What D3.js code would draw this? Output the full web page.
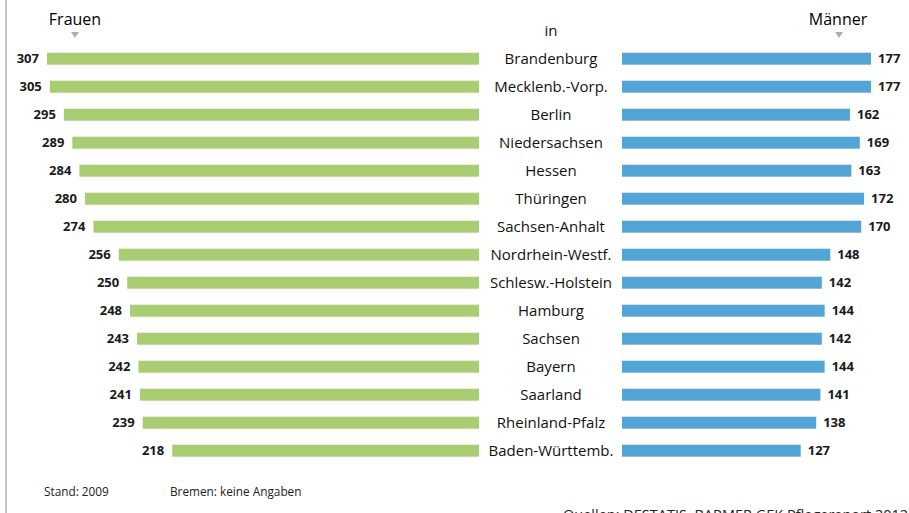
<!DOCTYPE html>
<html>
<head>
<meta charset="utf-8">
<script src="https://cdn.jsdelivr.net/npm/d3@7"></script>
<style>
  body { margin: 0; background: #fff; }
  svg { display: block; font-family: "Open Sans", "DejaVu Sans", sans-serif; }
</style>
</head>
<body>
<script>
// Pflegebedürftige je Bundesland, Frauen / Männer (Stand 2009)
var LAENDER = ["Brandenburg", "Mecklenb.-Vorp.", "Berlin", "Niedersachsen", "Hessen", "Thüringen", "Sachsen-Anhalt", "Nordrhein-Westf.", "Schlesw.-Holstein", "Hamburg", "Sachsen", "Bayern", "Saarland", "Rheinland-Pfalz", "Baden-Württemb."];
var FRAUEN = [307, 305, 295, 289, 284, 280, 274, 256, 250, 248, 243, 242, 241, 239, 218];
var MAENNER = [177, 177, 162, 169, 163, 172, 170, 148, 142, 144, 142, 144, 141, 138, 127];

var w = 909, h = 513;
var gruen = "#a9cd73", blau = "#52a5d5";
var mitteL = 479, mitteR = 622, mitteX = 551;
var barH = 12;

var svg = d3.select("body").append("svg").attr("width", w).attr("height", h);

// gleiche Skala für beide Seiten
var x = d3.scaleLinear().domain([0, 307]).range([0, 432]);
var y = d3.scalePoint().domain(LAENDER).range([58.7, 450.7]);

var data = LAENDER.map(function (d, i) { return { name: d, f: FRAUEN[i], m: MAENNER[i] }; });

// graue Linie links
svg.append("line").attr("x1", 6).attr("x2", 6).attr("y1", 0).attr("y2", h)
  .attr("stroke", "#c4c4c4").attr("stroke-width", 2);

var rows = svg.selectAll("g.row").data(data).enter().append("g").attr("class", "row");

rows.append("rect")
  .attr("x", function (d) { return mitteL - x(d.f); })
  .attr("y", function (d) { return y(d.name) - barH / 2; })
  .attr("width", function (d) { return x(d.f); })
  .attr("height", barH)
  .attr("fill", gruen);

rows.append("rect")
  .attr("x", mitteR)
  .attr("y", function (d) { return y(d.name) - barH / 2; })
  .attr("width", function (d) { return x(d.m); })
  .attr("height", barH)
  .attr("fill", blau);

rows.append("text")
  .attr("x", function (d) { return mitteL - x(d.f) - 8; })
  .attr("y", function (d) { return y(d.name); })
  .attr("dy", "0.35em").attr("text-anchor", "end")
  .style("font-size", "13px").style("font-weight", "bold").attr("fill", "#1a1a1a")
  .text(function (d) { return d.f; });

rows.append("text")
  .attr("x", function (d) { return mitteR + x(d.m) + 7; })
  .attr("y", function (d) { return y(d.name); })
  .attr("dy", "0.35em").attr("text-anchor", "start")
  .style("font-size", "13px").style("font-weight", "bold").attr("fill", "#1a1a1a")
  .text(function (d) { return d.m; });

rows.append("text")
  .attr("x", mitteX)
  .attr("y", function (d) { return y(d.name); })
  .attr("dy", "0.35em").attr("text-anchor", "middle")
  .style("font-size", "15px").attr("fill", "#111")
  .text(function (d) { return d.name; });

// Kopfzeile
svg.append("text").attr("x", 75).attr("y", 25).attr("text-anchor", "middle")
  .style("font-size", "16px").attr("fill", "#000").text("Frauen");
svg.append("text").attr("x", 838).attr("y", 25).attr("text-anchor", "middle")
  .style("font-size", "16px").attr("fill", "#000").text("Männer");
svg.append("text").attr("x", mitteX).attr("y", 36).attr("text-anchor", "middle")
  .style("font-size", "15px").attr("fill", "#111").text("in");

[75, 839].forEach(function (cx) {
  svg.append("path")
    .attr("d", "M" + (cx - 4) + ",32 L" + (cx + 4) + ",32 L" + cx + ",38 Z")
    .attr("fill", "#a7afb4");
});

// Fußzeile
svg.append("text").attr("x", 44).attr("y", 496).style("font-size", "11.8px").attr("fill", "#222").text("Stand: 2009");
svg.append("text").attr("x", 170).attr("y", 496).style("font-size", "11.8px").attr("fill", "#222").text("Bremen: keine Angaben");
svg.append("text").attr("x", 563).attr("y", 520).style("font-size", "14.5px").attr("fill", "#222").text("Quellen: DESTATIS, BARMER GEK Pflegereport 2012");
</script>
</body>
</html>
